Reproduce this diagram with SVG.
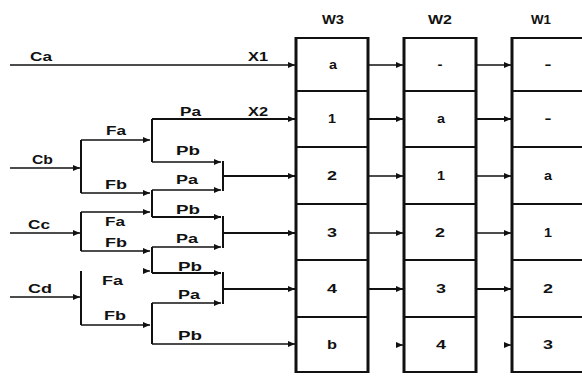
<svg xmlns="http://www.w3.org/2000/svg" width="582" height="376" viewBox="0 0 582 376">
<style>
.t{font-family:"Liberation Sans",Arial,sans-serif;font-weight:bold;font-size:12px;fill:#111}
.c{text-anchor:middle}
.w{font-size:12px}
.ln{stroke:#111;stroke-width:1.3;fill:none}
.th{stroke:#111;stroke-width:2;fill:none}
.box{fill:#fff;stroke:#111;stroke-width:2}
.bv{stroke:#111;stroke-width:3}
</style>
<defs>
<marker id="ah" markerUnits="userSpaceOnUse" markerWidth="7" markerHeight="6" refX="7" refY="3" orient="auto">
<path d="M0,0 L7,3 L0,6 z" fill="#111"/>
</marker>
</defs>
<rect width="582" height="376" fill="#fff"/>

<g id="connectors">
<line class="ln" x1="10" y1="65" x2="295" y2="65" marker-end="url(#ah)"/>
<line class="th" x1="152" y1="119" x2="295" y2="119" marker-end="url(#ah)"/>
<line class="ln" x1="10" y1="168" x2="80" y2="168" marker-end="url(#ah)"/>
<line class="th" x1="81" y1="140" x2="81" y2="193"/>
<line class="ln" x1="81" y1="140" x2="150" y2="140" marker-end="url(#ah)"/>
<line class="ln" x1="81" y1="193" x2="150" y2="193" marker-end="url(#ah)"/>
<line class="th" x1="152" y1="119" x2="152" y2="162"/>
<line class="ln" x1="152" y1="162" x2="221" y2="162" marker-end="url(#ah)"/>
<line class="th" x1="152" y1="190" x2="152" y2="217"/>
<line class="ln" x1="152" y1="190" x2="221" y2="190" marker-end="url(#ah)"/>
<line class="th" x1="223" y1="161" x2="223" y2="191"/>
<line class="th" x1="223" y1="176" x2="295" y2="176" marker-end="url(#ah)"/>

<line class="ln" x1="10" y1="233" x2="80" y2="233" marker-end="url(#ah)"/>
<line class="th" x1="81" y1="212" x2="81" y2="251"/>
<line class="ln" x1="81" y1="212" x2="150" y2="212" marker-end="url(#ah)"/>
<line class="ln" x1="81" y1="251" x2="150" y2="251" marker-end="url(#ah)"/>
<line class="th" x1="152" y1="217" x2="221" y2="217" marker-end="url(#ah)"/>
<line class="th" x1="152" y1="247" x2="152" y2="273"/>
<line class="ln" x1="152" y1="247" x2="221" y2="247" marker-end="url(#ah)"/>
<line class="th" x1="223" y1="216" x2="223" y2="248"/>
<line class="th" x1="223" y1="233" x2="295" y2="233" marker-end="url(#ah)"/>

<line class="ln" x1="10" y1="297" x2="80" y2="297" marker-end="url(#ah)"/>
<line class="th" x1="81" y1="271" x2="81" y2="325"/>
<line class="ln" x1="143" y1="271" x2="150" y2="271" marker-end="url(#ah)"/>
<line class="ln" x1="81" y1="325" x2="150" y2="325" marker-end="url(#ah)"/>
<line class="th" x1="152" y1="273" x2="221" y2="273" marker-end="url(#ah)"/>
<line class="th" x1="152" y1="303" x2="152" y2="344"/>
<line class="ln" x1="152" y1="303" x2="221" y2="303" marker-end="url(#ah)"/>
<line class="th" x1="223" y1="272" x2="223" y2="304"/>
<line class="th" x1="223" y1="289" x2="295" y2="289" marker-end="url(#ah)"/>
<line class="ln" x1="152" y1="344" x2="295" y2="344" marker-end="url(#ah)"/>

<line class="ln" x1="368" y1="65" x2="403" y2="65" marker-end="url(#ah)"/>
<line class="th" x1="368" y1="119" x2="403" y2="119" marker-end="url(#ah)"/>
<line class="ln" x1="368" y1="176" x2="403" y2="176" marker-end="url(#ah)"/>
<line class="ln" x1="368" y1="233" x2="403" y2="233" marker-end="url(#ah)"/>
<line class="th" x1="368" y1="289" x2="403" y2="289" marker-end="url(#ah)"/>
<line class="ln" x1="396" y1="345" x2="403" y2="345" marker-end="url(#ah)"/>
<line class="ln" x1="476" y1="65" x2="511" y2="65" marker-end="url(#ah)"/>
<line class="th" x1="476" y1="119" x2="511" y2="119" marker-end="url(#ah)"/>
<line class="ln" x1="476" y1="176" x2="511" y2="176" marker-end="url(#ah)"/>
<line class="ln" x1="476" y1="233" x2="511" y2="233" marker-end="url(#ah)"/>
<line class="th" x1="476" y1="289" x2="511" y2="289" marker-end="url(#ah)"/>
<line class="ln" x1="504" y1="345" x2="511" y2="345" marker-end="url(#ah)"/>
</g>

<g id="labels">
<text class="t" x="30" y="61" textLength="22" lengthAdjust="spacingAndGlyphs">Ca</text>
<text class="t" x="248" y="61" textLength="20" lengthAdjust="spacingAndGlyphs">X1</text>
<text class="t" x="180" y="116" textLength="21" lengthAdjust="spacingAndGlyphs">Pa</text>
<text class="t" x="248" y="116" textLength="20" lengthAdjust="spacingAndGlyphs">X2</text>
<text class="t" x="106" y="135" textLength="20" lengthAdjust="spacingAndGlyphs">Fa</text>
<text class="t" x="32" y="164" textLength="21" lengthAdjust="spacingAndGlyphs">Cb</text>
<text class="t" x="176" y="155" textLength="24" lengthAdjust="spacingAndGlyphs">Pb</text>
<text class="t" x="105" y="189" textLength="22" lengthAdjust="spacingAndGlyphs">Fb</text>
<text class="t" x="176" y="184" textLength="22" lengthAdjust="spacingAndGlyphs">Pa</text>
<text class="t" x="176" y="214" textLength="24" lengthAdjust="spacingAndGlyphs">Pb</text>
<text class="t" x="28" y="229" textLength="22" lengthAdjust="spacingAndGlyphs">Cc</text>
<text class="t" x="105" y="226" textLength="20" lengthAdjust="spacingAndGlyphs">Fa</text>
<text class="t" x="105" y="247" textLength="22" lengthAdjust="spacingAndGlyphs">Fb</text>
<text class="t" x="176" y="243" textLength="22" lengthAdjust="spacingAndGlyphs">Pa</text>
<text class="t" x="178" y="271" textLength="24" lengthAdjust="spacingAndGlyphs">Pb</text>
<text class="t" x="28" y="293" textLength="24" lengthAdjust="spacingAndGlyphs">Cd</text>
<text class="t" x="102" y="285" textLength="21" lengthAdjust="spacingAndGlyphs">Fa</text>
<text class="t" x="178" y="299" textLength="22" lengthAdjust="spacingAndGlyphs">Pa</text>
<text class="t" x="104" y="320" textLength="22" lengthAdjust="spacingAndGlyphs">Fb</text>
<text class="t" x="178" y="340" textLength="24" lengthAdjust="spacingAndGlyphs">Pb</text>
</g>

<g id="W3">
<text class="t w c" x="333" y="24" textLength="22" lengthAdjust="spacingAndGlyphs">W3</text>
<rect class="box" x="296" y="38" width="72" height="334"/>
<line class="bv" x1="296" y1="37" x2="296" y2="373"/>
<line class="bv" x1="368" y1="37" x2="368" y2="373"/>
<line class="th" x1="296" y1="91" x2="368" y2="91"/>
<line class="th" x1="296" y1="147" x2="368" y2="147"/>
<line class="th" x1="296" y1="204" x2="368" y2="204"/>
<line class="th" x1="296" y1="260" x2="368" y2="260"/>
<line class="th" x1="296" y1="317" x2="368" y2="317"/>
<text class="t c" x="333" y="69" textLength="8" lengthAdjust="spacingAndGlyphs">a</text>
<text class="t c" x="332" y="123" textLength="8" lengthAdjust="spacingAndGlyphs">1</text>
<text class="t c" x="332" y="180" textLength="10" lengthAdjust="spacingAndGlyphs">2</text>
<text class="t c" x="332" y="237" textLength="10" lengthAdjust="spacingAndGlyphs">3</text>
<text class="t c" x="332" y="293" textLength="10" lengthAdjust="spacingAndGlyphs">4</text>
<text class="t c" x="332" y="349" textLength="10" lengthAdjust="spacingAndGlyphs">b</text>
</g>

<g id="W2">
<text class="t w c" x="440" y="24" textLength="24" lengthAdjust="spacingAndGlyphs">W2</text>
<rect class="box" x="404" y="38" width="72" height="334"/>
<line class="bv" x1="404" y1="37" x2="404" y2="373"/>
<line class="bv" x1="476" y1="37" x2="476" y2="373"/>
<line class="th" x1="404" y1="91" x2="476" y2="91"/>
<line class="th" x1="404" y1="147" x2="476" y2="147"/>
<line class="th" x1="404" y1="204" x2="476" y2="204"/>
<line class="th" x1="404" y1="260" x2="476" y2="260"/>
<line class="th" x1="404" y1="317" x2="476" y2="317"/>
<text class="t c" x="440" y="69" textLength="5" lengthAdjust="spacingAndGlyphs">-</text>
<text class="t c" x="441" y="123" textLength="8" lengthAdjust="spacingAndGlyphs">a</text>
<text class="t c" x="441" y="180" textLength="8" lengthAdjust="spacingAndGlyphs">1</text>
<text class="t c" x="440" y="237" textLength="10" lengthAdjust="spacingAndGlyphs">2</text>
<text class="t c" x="441" y="293" textLength="10" lengthAdjust="spacingAndGlyphs">3</text>
<text class="t c" x="441" y="349" textLength="10" lengthAdjust="spacingAndGlyphs">4</text>
</g>

<g id="W1">
<text class="t w c" x="541" y="24" textLength="20" lengthAdjust="spacingAndGlyphs">W1</text>
<rect class="box" x="512" y="38" width="80" height="334"/>
<line class="bv" x1="512" y1="37" x2="512" y2="373"/>
<line class="th" x1="512" y1="91" x2="584" y2="91"/>
<line class="th" x1="512" y1="147" x2="584" y2="147"/>
<line class="th" x1="512" y1="204" x2="584" y2="204"/>
<line class="th" x1="512" y1="260" x2="584" y2="260"/>
<line class="th" x1="512" y1="317" x2="584" y2="317"/>
<text class="t c" x="548" y="69" textLength="7" lengthAdjust="spacingAndGlyphs">-</text>
<text class="t c" x="548" y="123" textLength="7" lengthAdjust="spacingAndGlyphs">-</text>
<text class="t c" x="548" y="180" textLength="8" lengthAdjust="spacingAndGlyphs">a</text>
<text class="t c" x="548" y="237" textLength="8" lengthAdjust="spacingAndGlyphs">1</text>
<text class="t c" x="548" y="293" textLength="10" lengthAdjust="spacingAndGlyphs">2</text>
<text class="t c" x="548" y="349" textLength="10" lengthAdjust="spacingAndGlyphs">3</text>
</g>
</svg>
